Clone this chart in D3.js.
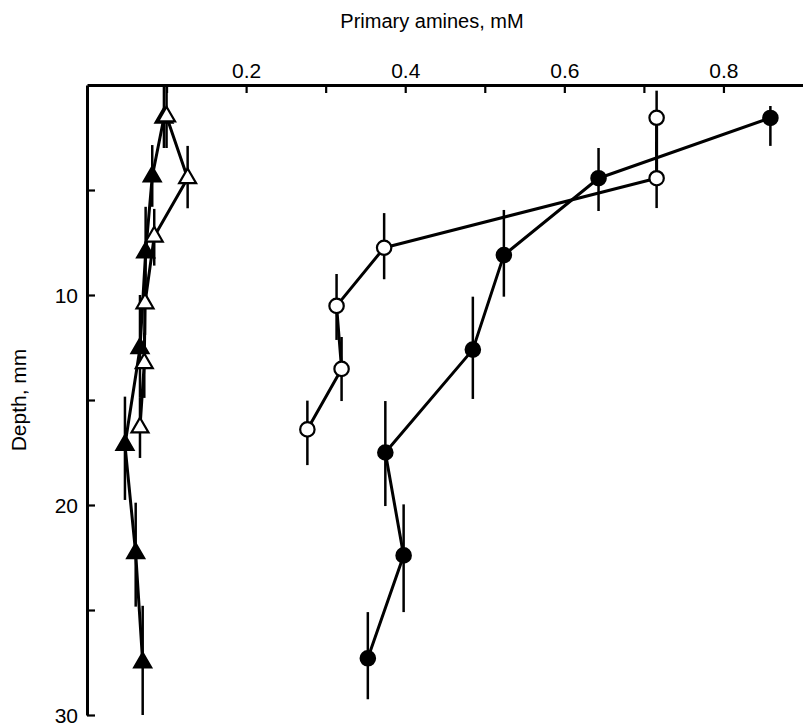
<!DOCTYPE html>
<html>
<head>
<meta charset="utf-8">
<script src="https://cdn.jsdelivr.net/npm/d3@7"></script>
<style>
  html, body { margin: 0; padding: 0; background: #fff; }
  svg { display: block; }
  text { font-family: "Liberation Sans", Arial, Helvetica, sans-serif; fill: #000; }
</style>
</head>
<body>
<svg id="chart" width="803" height="727"></svg>
<script>
// Primary amine profiles with depth (mM vs mm)
const xTicks = [0.1, 0.2, 0.3, 0.4, 0.5, 0.6, 0.7, 0.8];
const xLabels = [0.2, 0.4, 0.6, 0.8];
const yTicks = [5, 10, 15, 20, 25, 30];
const yLabels = [10, 20, 30];

// filled circles
const fcConc  = [0.859, 0.643, 0.524, 0.485, 0.375, 0.398, 0.353];
const fcDepth = [1.57, 4.44, 8.1, 12.6, 17.5, 22.4, 27.3];
const fcTop   = [1.0, 3.0, 5.95, 10.08, 15.05, 19.97, 25.1];
const fcBot   = [2.9, 6.0, 10.08, 14.95, 20.05, 25.1, 29.25];

// open circles
const ocConc  = [0.716, 0.716, 0.3735, 0.3137, 0.32, 0.277];
const ocDepth = [1.56, 4.44, 7.75, 10.52, 13.52, 16.4];
const ocTop   = [0.27, 2.7, 6.1, 9.0, 12.0, 15.03];
const ocBot   = [3.3, 5.86, 9.25, 12.14, 15.05, 18.1];

// filled triangles
const ftConc  = [0.0967, 0.082, 0.0737, 0.0666, 0.0477, 0.0612, 0.07];
const ftDepth = [1.56, 4.36, 7.98, 12.54, 17.14, 22.3, 27.5];
const ftTop   = [0.0, 2.86, 5.8, 10.0, 14.84, 19.89, 24.8];
const ftBot   = [3.0, 5.8, 10.1, 14.9, 19.76, 24.84, 30.0];

// open triangles
const otConc  = [0.1, 0.1265, 0.0845, 0.0729, 0.072, 0.0666];
const otDepth = [1.5, 4.44, 7.22, 10.4, 13.25, 16.31];
const otTop   = [0.0, 2.9, 5.9, 9.0, 11.8, 14.9];
const otBot   = [3.0, 5.87, 8.6, 11.9, 14.9, 17.76];

const svg = d3.select("#chart");
const x = d3.scaleLinear().domain([0, 0.9]).range([87, 803]);
const y = d3.scaleLinear().domain([0, 30]).range([85, 715]);

function rows(conc, depth, top, bot) {
  return conc.map((c, i) => ({ c, d: depth[i], lo: top[i], hi: bot[i] }));
}

const series = [
  { data: rows(fcConc, fcDepth, fcTop, fcBot), shape: "circle", fill: "#000" },
  { data: rows(ocConc, ocDepth, ocTop, ocBot), shape: "circle", fill: "#fff" },
  { data: rows(ftConc, ftDepth, ftTop, ftBot), shape: "triangle", fill: "#000" },
  { data: rows(otConc, otDepth, otTop, otBot), shape: "triangle", fill: "#fff" }
];

// axes
const xAxis = d3.axisTop(x)
  .tickValues(xTicks)
  .tickFormat(v => xLabels.some(l => Math.abs(l - v) < 1e-9) ? d3.format(".1f")(v) : "")
  .tickSizeInner(-8).tickSizeOuter(0).tickPadding(7);
const gx = svg.append("g").attr("transform", `translate(0,${y(0)})`).call(xAxis);

const yAxis = d3.axisLeft(y)
  .tickValues(yTicks)
  .tickFormat(v => yLabels.includes(v) ? String(v) : "")
  .tickSizeInner(-8).tickSizeOuter(0).tickPadding(9);
const gy = svg.append("g").attr("transform", `translate(${x(0)},0)`).call(yAxis);

[gx, gy].forEach(g => {
  g.select(".domain").attr("stroke", "#000").attr("stroke-width", 3);
  g.selectAll(".tick line").attr("stroke", "#000").attr("stroke-width", 2.2);
  g.selectAll(".tick text").attr("font-size", 21).attr("fill", "#000")
    .style("font-family", '"Liberation Sans", Arial, sans-serif');
});
gy.selectAll(".tick text").attr("dy", "0.36em");

// axis titles
svg.append("text").attr("x", 432).attr("y", 28).attr("text-anchor", "middle")
  .attr("font-size", 20).text("Primary amines, mM");
svg.append("text").attr("transform", "translate(26,400) rotate(-90)")
  .attr("text-anchor", "middle").attr("font-size", 21).text("Depth, mm");

const line = d3.line().x(p => x(p.c)).y(p => y(p.d));

// connecting lines
series.forEach(s => {
  svg.append("path").datum(s.data).attr("d", line)
    .attr("fill", "none").attr("stroke", "#000").attr("stroke-width", 3)
    .attr("stroke-linejoin", "round");
});

// depth-interval bars
series.forEach(s => {
  svg.append("g").selectAll("line").data(s.data).join("line")
    .attr("x1", p => x(p.c)).attr("x2", p => x(p.c))
    .attr("y1", p => y(p.lo)).attr("y2", p => y(p.hi))
    .attr("stroke", "#000").attr("stroke-width", 2.5);
});

// markers
const tri = d3.symbol().type(d3.symbolTriangle).size(125);
series.forEach(s => {
  const g = svg.append("g");
  if (s.shape === "circle") {
    g.selectAll("circle").data(s.data).join("circle")
      .attr("cx", p => x(p.c)).attr("cy", p => y(p.d)).attr("r", 7.2)
      .attr("fill", s.fill).attr("stroke", "#000").attr("stroke-width", 2.2);
  } else {
    g.selectAll("path").data(s.data).join("path")
      .attr("d", tri)
      .attr("transform", p => `translate(${x(p.c)},${y(p.d)})`)
      .attr("fill", s.fill).attr("stroke", "#000").attr("stroke-width", 2.2)
      .attr("stroke-linejoin", "miter");
  }
});
</script>
</body>
</html>
